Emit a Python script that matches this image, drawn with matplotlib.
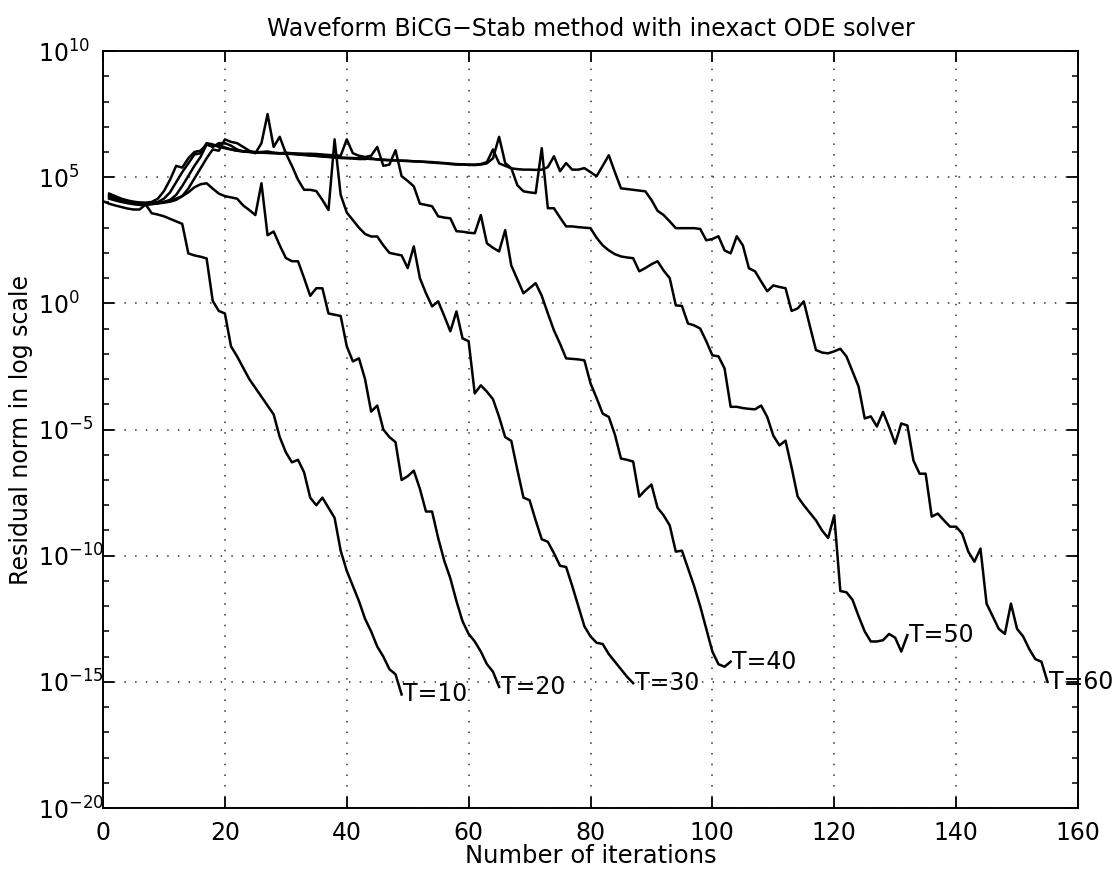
import numpy as np
import matplotlib
matplotlib.use("Agg")
import matplotlib.pyplot as plt
from matplotlib.ticker import FixedLocator, LogFormatterSciNotation, NullFormatter

# ---------------- data (log10 of residual norm, one value per iteration) ----------------
labels = ["T=10", "T=20", "T=30", "T=40", "T=50", "T=60"]
start_iter = [0, 1, 1, 1, 1, 1]

log_res_T10 = [4.05, 3.95, 3.88, 3.82, 3.76, 3.72, 3.72, 3.92, 3.57, 3.52,
               3.45, 3.35, 3.25, 3.15, 1.98, 1.9, 1.85, 1.78, 0.1, -0.3,
               -0.4, -1.7, -2.1, -2.55, -3.0, -3.35, -3.7, -4.05, -4.4, -5.3,
               -5.9, -6.3, -6.2, -6.7, -7.7, -8.0, -7.7, -8.1, -8.5, -9.8,
               -10.6, -11.2, -11.8, -12.5, -13.0, -13.6, -14.0, -14.5, -14.7, -15.5]

log_res_T20 = [4.15, 4.08, 4.02, 3.97, 3.93, 3.9, 3.9, 3.93, 3.97, 4.02,
               4.08, 4.15, 4.25, 4.4, 4.6, 4.72, 4.76, 4.55, 4.35, 4.25,
               4.2, 4.15, 3.88, 3.7, 3.5, 4.76, 2.7, 2.85, 2.3, 1.8,
               1.67, 1.67, 1.0, 0.3, 0.6, 0.6, -0.4, -0.45, -0.5, -1.7,
               -2.3, -2.18, -3.0, -4.29, -4.05, -5.0, -5.3, -5.5, -7.0, -6.85,
               -6.63, -7.35, -8.25, -8.25, -9.3, -10.2, -10.9, -11.8, -12.6, -13.1,
               -13.4, -13.8, -14.3, -14.6, -15.2]

log_res_T30 = [4.2, 4.12, 4.06, 4.0, 3.96, 3.93, 3.93, 3.94, 3.96, 3.99,
               4.03, 4.1, 4.25, 4.55, 4.95, 5.35, 5.75, 6.1, 6.05, 6.5,
               6.4, 6.35, 6.2, 6.05, 5.95, 6.35, 7.5, 6.2, 6.6, 5.95,
               5.45, 4.9, 4.5, 4.5, 4.45, 4.1, 3.7, 6.5, 4.3, 3.6,
               3.3, 3.0, 2.75, 2.65, 2.65, 2.3, 2.0, 1.95, 1.9, 1.4,
               2.26, 1.0, 0.4, -0.12, 0.08, -0.5, -1.11, -0.32, -1.39, -1.5,
               -3.57, -3.25, -3.5, -3.8, -4.5, -5.3, -5.45, -6.6, -7.7, -7.8,
               -8.6, -9.35, -9.45, -9.9, -10.4, -10.45, -11.2, -12.0, -12.8, -13.2,
               -13.45, -13.5, -13.9, -14.2, -14.5, -14.8, -15.05]

log_res_T40 = [4.25, 4.17, 4.1, 4.04, 4.0, 3.97, 3.96, 3.96, 3.98, 4.02,
               4.1, 4.3, 4.65, 5.05, 5.45, 5.8, 6.3, 6.2, 6.35, 6.35,
               6.25, 6.1, 6.02, 6.0, 5.98, 6.0, 6.02, 5.97, 5.95, 5.97,
               5.95, 5.94, 5.93, 5.93, 5.92, 5.9, 5.88, 5.87, 5.85, 6.5,
               5.95, 5.85, 5.8, 5.85, 6.2, 5.45, 5.5, 6.07, 5.04, 4.85,
               4.64, 3.95, 3.9, 3.85, 3.45, 3.4, 3.37, 2.86, 2.84, 2.8,
               2.78, 3.5, 2.38, 2.2, 2.06, 2.9, 1.5, 0.95, 0.4, 0.6,
               0.8, 0.3, -0.4, -1.07, -1.6, -2.18, -2.2, -2.22, -2.26, -3.17,
               -3.75, -4.37, -4.5, -5.2, -6.15, -6.2, -6.27, -7.66, -7.4, -7.18,
               -8.1, -8.4, -8.8, -9.84, -9.8, -10.5, -11.2, -12.0, -12.9, -13.8,
               -14.3, -14.4, -14.2]

log_res_T50 = [4.3, 4.2, 4.12, 4.06, 4.01, 3.98, 3.97, 3.98, 4.02, 4.15,
               4.4, 4.8, 5.2, 5.55, 5.9, 5.95, 6.35, 6.3, 6.2, 6.15,
               6.1, 6.05, 6.02, 6.0, 5.98, 5.97, 5.96, 5.95, 5.94, 5.93,
               5.92, 5.9, 5.88, 5.86, 5.84, 5.82, 5.8, 5.78, 5.76, 5.75,
               5.74, 5.72, 5.72, 5.75, 5.7, 5.68, 5.67, 5.66, 5.65, 5.64,
               5.63, 5.62, 5.6, 5.58, 5.56, 5.55, 5.52, 5.5, 5.5, 5.49,
               5.48, 5.5, 5.55, 5.75, 6.6, 5.56, 5.36, 4.68, 4.44, 4.4,
               4.37, 6.15, 3.77, 3.77, 3.4, 3.05, 3.05, 3.02, 3.0, 2.98,
               2.6, 2.3, 2.1, 1.95, 1.86, 1.82, 1.79, 1.27, 1.4, 1.55,
               1.67, 1.3, 1.0, -0.08, -0.1, -0.8, -0.87, -1.0, -1.5, -2.06,
               -2.1, -2.58, -4.1, -4.1, -4.15, -4.18, -4.2, -4.05, -4.5, -5.24,
               -5.63, -5.44, -6.5, -7.66, -8.0, -8.3, -8.6, -9.0, -9.3, -8.4,
               -11.4, -11.45, -11.75, -12.4, -13.0, -13.4, -13.4, -13.35, -13.1, -13.25,
               -13.8, -13.15]

log_res_T60 = [4.35, 4.25, 4.15, 4.08, 4.03, 4.0, 3.99, 4.02, 4.15, 4.45,
               4.9, 5.45, 5.38, 5.75, 6.0, 6.05, 6.3, 6.22, 6.28, 6.18,
               6.1, 6.05, 6.03, 6.02, 6.0, 5.98, 5.97, 5.96, 5.95, 5.94,
               5.93, 5.91, 5.89, 5.87, 5.85, 5.83, 5.81, 5.8, 5.78, 5.77,
               5.76, 5.75, 5.74, 5.72, 5.71, 5.7, 5.68, 5.67, 5.66, 5.65,
               5.63, 5.62, 5.61, 5.6, 5.58, 5.56, 5.54, 5.52, 5.51, 5.5,
               5.5, 5.52, 5.6, 6.1, 5.55, 5.45, 5.35, 5.32, 5.3, 5.3,
               5.29, 5.3, 5.4, 5.83, 5.24, 5.56, 5.3, 5.3, 5.36, 5.2,
               5.04, 5.45, 5.87, 5.2, 4.56, 4.53, 4.5, 4.47, 4.44, 4.1,
               3.67, 3.5, 3.25, 2.98, 2.98, 2.98, 2.98, 2.95, 2.5, 2.55,
               2.66, 2.1, 1.98, 2.66, 2.3, 1.39, 1.27, 0.87, 0.48, 0.71,
               0.65, 0.6, -0.3, -0.2, 0.08, -0.9, -1.85, -1.95, -1.98, -1.9,
               -1.8, -2.1, -2.7, -3.3, -4.56, -4.48, -4.88, -4.3, -4.9, -5.56,
               -4.76, -4.84, -6.23, -6.75, -6.75, -8.45, -8.33, -8.6, -8.85, -8.85,
               -9.13, -9.84, -10.24, -9.72, -11.9, -12.4, -12.9, -13.1, -11.9, -12.9,
               -13.2, -13.7, -14.1, -14.2, -15.0]

all_series = [log_res_T10, log_res_T20, log_res_T30, log_res_T40, log_res_T50, log_res_T60]

x_ticks = [0, 20, 40, 60, 80, 100, 120, 140, 160]
y_major_exp = [-20, -15, -10, -5, 0, 5, 10]

title = "Waveform BiCG\u2212Stab method with inexact ODE solver"
xlabel = "Number of iterations"
ylabel = "Residual norm in log scale"

# ---------------- figure ----------------
fig = plt.figure(figsize=(11.15, 8.74), dpi=100)
ax = fig.add_axes([0.0924, 0.0755, 0.8744, 0.8661])

for lab, st, vals in zip(labels, start_iter, all_series):
    it = np.arange(len(vals)) + st
    y = 10.0 ** np.asarray(vals)
    ax.plot(it, y, color="black", lw=1.8)
    ax.text(it[-1] + 0.3, y[-1], lab, fontsize=17, va="center", ha="left")

ax.set_yscale("log")
ax.set_xlim(0, 160)
ax.set_ylim(1e-20, 1e10)

ax.yaxis.set_major_locator(FixedLocator([10.0 ** k for k in y_major_exp]))
ax.yaxis.set_minor_locator(FixedLocator([10.0 ** k for k in range(-20, 11) if k % 5]))
ax.yaxis.set_major_formatter(LogFormatterSciNotation())
ax.yaxis.set_minor_formatter(NullFormatter())
ax.set_xticks(x_ticks)

ax.grid(True, which="major", linestyle=(0, (1, 6)), color="#333333", lw=1.1)
ax.tick_params(which="both", direction="in", top=True, right=True)
ax.tick_params(which="major", length=8, width=1.3, labelsize=17)
ax.tick_params(which="minor", length=4.5, width=1.1)
ax.tick_params(axis="y", which="major", pad=47)
ax.tick_params(axis="x", which="major", pad=9)
plt.setp(ax.get_yticklabels(), ha="left")

for s in ax.spines.values():
    s.set_linewidth(1.4)

ax.set_title(title, fontsize=17, pad=11)
ax.set_xlabel(xlabel, fontsize=17.5)
ax.set_ylabel(ylabel, fontsize=17)
ax.xaxis.set_label_coords(0.5, -0.047)
ax.yaxis.set_label_coords(-0.072, 0.5)

fig.savefig("out.png", dpi=100)
